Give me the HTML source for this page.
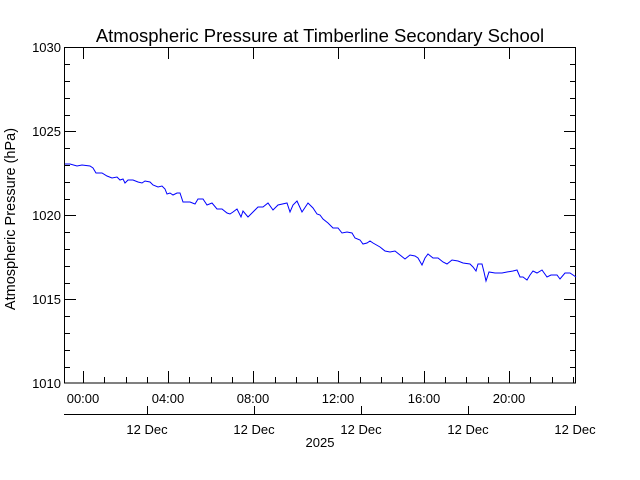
<!DOCTYPE html>
<html><head><style>
body{margin:0;background:#fff;}
svg{display:block;}
text{font-family:"Liberation Sans",sans-serif;font-size:13px;fill:#000;}
</style></head><body>
<svg width="640" height="480" viewBox="0 0 640 480" xmlns="http://www.w3.org/2000/svg">
<text x="320" y="42" text-anchor="middle" style="font-size:18.5px">Atmospheric Pressure at Timberline Secondary School</text>
<g stroke="#000" stroke-width="1" fill="none" shape-rendering="crispEdges">
<rect x="64.5" y="47.5" width="511" height="335.5"/>
<path d="M64 47.5h12M64 131.5h12M64 215.5h12M64 299.5h12M64 383h12"/>
<path d="M576 47.5h-12M576 131.5h-12M576 215.5h-12M576 299.5h-12"/>
<path d="M64 64.5h6M64 81.5h6M64 98.5h6M64 115.5h6M64 148.5h6M64 165.5h6M64 182.5h6M64 199.5h6M64 232.5h6M64 249.5h6M64 266.5h6M64 283.5h6M64 316.5h6M64 333.5h6M64 350.5h6M64 367.5h6"/>
<path d="M576 64.5h-6M576 81.5h-6M576 98.5h-6M576 115.5h-6M576 148.5h-6M576 165.5h-6M576 182.5h-6M576 199.5h-6M576 232.5h-6M576 249.5h-6M576 266.5h-6M576 283.5h-6M576 316.5h-6M576 333.5h-6M576 350.5h-6M576 367.5h-6"/>
<path d="M83.5 383v-12M168.5 383v-12M253.5 383v-12M338.5 383v-12M424.5 383v-12M509.5 383v-12"/>
<path d="M83.5 47v12M168.5 47v12M253.5 47v12M338.5 47v12M424.5 47v12M509.5 47v12"/>
<path d="M104.5 383v-6M126.5 383v-6M147.5 383v-6M189.5 383v-6M211.5 383v-6M232.5 383v-6M275.5 383v-6M296.5 383v-6M317.5 383v-6M360.5 383v-6M381.5 383v-6M402.5 383v-6M445.5 383v-6M466.5 383v-6M488.5 383v-6M530.5 383v-6M552.5 383v-6M573.5 383v-6"/>
<path d="M64 414.5h512M147.5 414v-8M254.5 414v-8M361.5 414v-8M468.5 414v-8M575.5 414v-8"/>
</g>
<g text-anchor="end">
<text x="61" y="52">1030</text><text x="61" y="136">1025</text><text x="61" y="220">1020</text><text x="61" y="304">1015</text><text x="61" y="388">1010</text>
</g>
<g text-anchor="middle">
<g style="font-size:15px">
<text x="83" y="403">00:00</text><text x="168" y="403">04:00</text><text x="253" y="403">08:00</text><text x="338" y="403">12:00</text><text x="424" y="403">16:00</text><text x="509" y="403">20:00</text>
</g>
<text x="147" y="434">12 Dec</text><text x="254" y="434">12 Dec</text><text x="361" y="434">12 Dec</text><text x="468" y="434">12 Dec</text><text x="575" y="434">12 Dec</text>
<text x="320" y="447">2025</text>
</g>
<text transform="translate(15,219) rotate(-90)" text-anchor="middle" style="font-size:14.5px">Atmospheric Pressure (hPa)</text>
<polyline fill="none" stroke="#0000ff" stroke-width="1" points="65,164 70,164 77,166 82,165 90,166 93,168 96,173 102,173 107,176 112,178 117,177 120,180 123,179 125,183 128,180 133,180 138,182 142,183 145,181 150,182 153,185 158,187 162,186 165,189 167,194 170,193 173,195 177,193 180,193 183,202 190,202 195,204 198,199 203,199 207,205 212,203 217,209 222,209 227,213 230,214 233,212 237,209 241,217 243,211 248,217 253,212 258,207 263,207 268,203 273,210 278,205 287,203 290,212 293,205 297,201 302,212 308,203 310,205 313,208 317,214 320,215 323,219 328,223 333,228 338,228 342,233 347,232 352,233 355,238 360,240 363,244 367,243 370,241 373,243 380,247 385,251 390,252 395,251 400,255 405,259 410,255 415,256 418,258 422,265 425,258 428,254 433,258 438,258 443,262 447,264 452,260 458,261 463,263 470,264 473,267 476,271 478,264 482,264 484,272 486,281 489,272 495,273 502,273 507,272 513,271 517,270 520,277 523,277 527,280 530,275 533,271 537,273 542,270 547,277 551,275 557,275 560,279 565,273 570,273 576,277"/>
</svg>
</body></html>
